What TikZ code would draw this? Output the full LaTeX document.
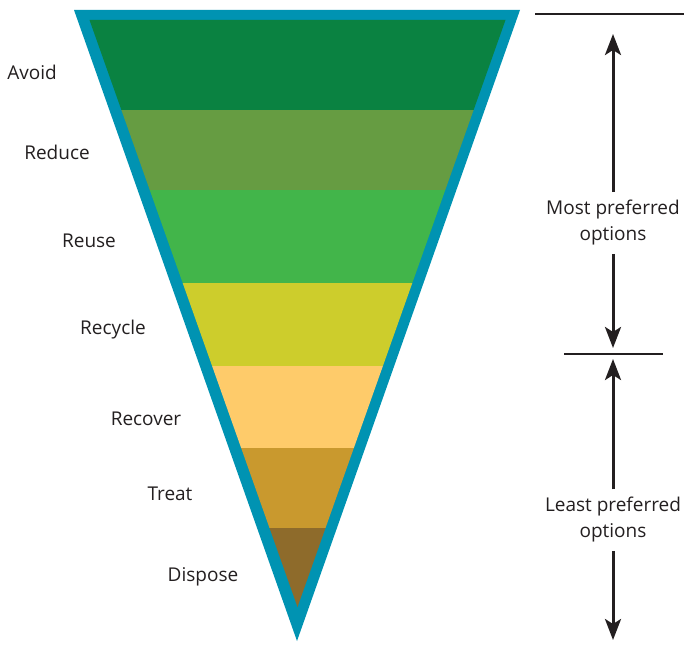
\documentclass[tikz,border=0pt]{standalone}
\usepackage{fontspec}
\setmainfont{Open Sans}
\usetikzlibrary{arrows.meta}
\definecolor{rim}{HTML}{0093B2}
\definecolor{cAvoid}{HTML}{0A8241}
\definecolor{cReduce}{HTML}{669C42}
\definecolor{cReuse}{HTML}{42B54A}
\definecolor{cRecycle}{HTML}{CDCD2C}
\definecolor{cRecover}{HTML}{FECB6A}
\definecolor{cTreat}{HTML}{C9992E}
\definecolor{cDispose}{HTML}{8E6B2B}
\definecolor{ink}{HTML}{231F20}
\tikzset{
  lbl/.style={font=\fontsize{19}{22}\selectfont, text=ink, inner sep=0pt},
  side/.style={font=\fontsize{19}{26}\selectfont, text=ink, align=center, inner sep=0pt},
  arr/.style={draw=ink, line width=3pt, -{Stealth[length=21pt, width=16pt, inset=5pt]}},
  rule/.style={draw=ink, line width=2.4pt},
}
\begin{document}
\begin{tikzpicture}[x=1pt, y=-1pt]
\useasboundingbox (0,0) rectangle (684,644);
% outer triangle
\fill[rim] (74,10) -- (520,10) -- (297,641) -- cycle;
% inner bands
\begin{scope}
\clip (89.5,20) -- (505.5,20) -- (297.5,607) -- cycle;
\fill[cAvoid] (60,15) rectangle (540,110);
\fill[cReduce] (60,110) rectangle (540,190);
\fill[cReuse] (60,190) rectangle (540,283);
\fill[cRecycle] (60,283) rectangle (540,366);
\fill[cRecover] (60,366) rectangle (540,448);
\fill[cTreat] (60,448) rectangle (540,528);
\fill[cDispose] (60,528) rectangle (540,615);
\end{scope}
% labels
\node[lbl] (avoid) at (32,72) {Avoid};
\node[lbl] (reduce) at (57,152) {Reduce};
\node[lbl] (reuse) at (89,241) {Reuse};
\node[lbl] (recycle) at (113,330) {Recycle};
\node[lbl] (recover) at (146,419) {Recover};
\node[lbl] (treat) at (170,494) {Treat};
\node[lbl] (dispose) at (203,577) {Dispose};
% right side
\coordinate (l1a) at (535,14);
\coordinate (l1b) at (684,14);
\coordinate (l2a) at (564,354);
\coordinate (l2b) at (663,354);
\draw[rule] (l1a) -- (l1b);
\draw[rule] (l2a) -- (l2b);
\node[side] (most) at (613,223) {Most preferred\\options};
\node[side] (least) at (613,520) {Least preferred\\options};
\coordinate (t1) at (613,34);
\coordinate (t2) at (613,348);
\coordinate (t3) at (613,359);
\coordinate (t4) at (613,640);
\draw[arr] ([yshift=8pt]most.north) -- (t1);
\draw[arr] ([yshift=-8pt]most.south) -- (t2);
\draw[arr] ([yshift=8pt]least.north) -- (t3);
\draw[arr] ([yshift=-8pt]least.south) -- (t4);
\end{tikzpicture}
\end{document}
